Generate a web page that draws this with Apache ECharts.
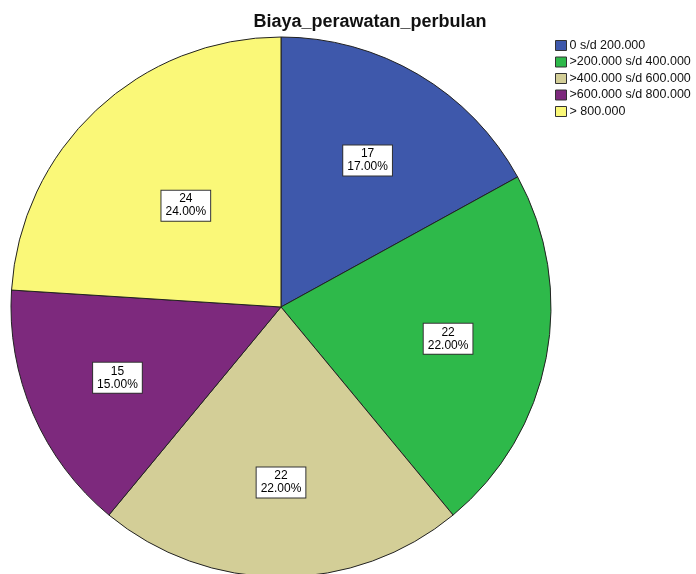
<!DOCTYPE html>
<html><head><meta charset="utf-8">
<script src="https://cdn.jsdelivr.net/npm/echarts@6/dist/echarts.min.js"></script>
<style>html,body{margin:0;padding:0;background:#fff}#c{width:696px;height:574px}</style>
</head><body><div id="c"></div>
<script>
const categories = ['0 s/d 200.000', '>200.000 s/d 400.000', '>400.000 s/d 600.000', '>600.000 s/d 800.000', '> 800.000'];
const counts = [17, 22, 22, 15, 24];
const colors = ['#3E58AB', '#2EB94A', '#D3CE97', '#7D297D', '#FAF878'];
const labelRadiusFrac = [0.63, 0.63, 0.65, 0.66, 0.515];

const CX = 281, CY = 307, R = 270;
const chart = echarts.init(document.getElementById('c'), null, {renderer: 'canvas'});
chart.setOption({
  animation: false,
  backgroundColor: '#fff',
  title: {
    text: 'Biaya_perawatan_perbulan',
    left: 370, top: 13, textAlign: 'center', padding: 0,
    textStyle: {fontFamily: 'Liberation Sans', fontSize: 18, fontWeight: 'bold', color: '#111'}
  },
  legend: {
    orient: 'vertical', left: 555, top: 39, padding: 0,
    itemWidth: 11, itemHeight: 10, itemGap: 3.5,
    icon: 'rect',
    itemStyle: {borderColor: '#333', borderWidth: 1},
    textStyle: {fontFamily: 'Liberation Sans', fontSize: 12.5, color: '#111', padding: [0,0,0,-2]},
    data: categories
  },
  series: [{
    type: 'pie',
    center: [CX, CY],
    radius: [0, R],
    startAngle: 90,
    clockwise: true,
    avoidLabelOverlap: false,
    itemStyle: {borderColor: '#222', borderWidth: 1},
    emphasis: {disabled: true},
    label: {
      show: true, position: 'inside',
      formatter: p => p.value + '\n' + p.percent.toFixed(2) + '%',
      fontFamily: 'Liberation Sans', fontSize: 12, lineHeight: 13, color: '#000',
      backgroundColor: '#fff', borderColor: '#333', borderWidth: 1, padding: [2, 4, 2, 4]
    },
    labelLayout: function (params) {
      const r = params.labelRect;
      const lx = r.x + r.width / 2, ly = r.y + r.height / 2;
      const vx = lx - CX, vy = ly - CY;
      const len = Math.sqrt(vx * vx + vy * vy) || 1;
      const k = labelRadiusFrac[params.dataIndex] * R / len;
      return {dx: vx * (k - 1), dy: vy * (k - 1)};
    },
    data: categories.map((c, i) => ({name: c, value: counts[i], itemStyle: {color: colors[i]}}))
  }]
});
</script></body></html>
